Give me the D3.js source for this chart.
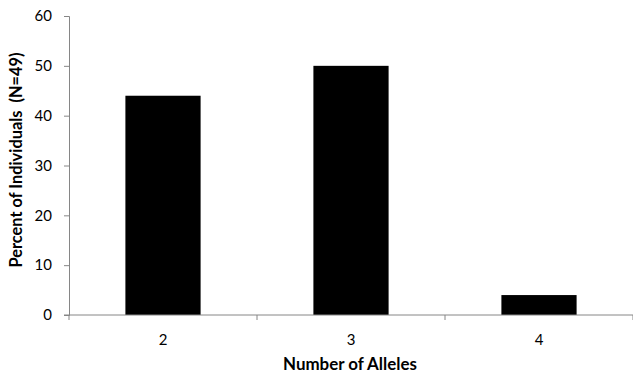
<!DOCTYPE html>
<html>
<head>
<meta charset="utf-8">
<script src="https://cdn.jsdelivr.net/npm/d3@7"></script>
<style>
  html, body { margin: 0; padding: 0; background: #fff; }
  svg { display: block; }
  text { font-family: Lato, "Open Sans", sans-serif; fill: #000; }
</style>
</head>
<body>
<svg id="chart" width="633" height="376"></svg>
<script>
const categories = ["2", "3", "4"];
const values = [44, 50, 4];
const yTicks = [0, 10, 20, 30, 40, 50, 60];
const xTitle = "Number of Alleles";
const yTitle = "Percent of Individuals  (N=49)";

const W = 633, H = 376;
const m = { left: 69, right: 0, top: 16, bottom: 61 };
const svg = d3.select("#chart");

const x = d3.scaleBand().domain(categories).range([m.left, W - m.right]).paddingInner(0.6).paddingOuter(0.3);
const xOuter = d3.scaleBand().domain(categories).range([m.left, W - m.right]);
const y = d3.scaleLinear().domain([0, 60]).range([H - m.bottom, m.top]);

// bars
svg.append("g").selectAll("rect").data(values).join("rect")
  .attr("x", (d, i) => x(categories[i]))
  .attr("width", x.bandwidth())
  .attr("y", d => y(d))
  .attr("height", d => y(0) - y(d))
  .attr("fill", "#000");

const axisColor = "#868686";

// y axis
const yAxis = svg.append("g").attr("transform", `translate(${m.left},0)`)
  .call(d3.axisLeft(y).tickValues(yTicks).tickSize(5).tickPadding(12));
yAxis.select(".domain").attr("stroke", axisColor);
yAxis.selectAll(".tick line").attr("stroke", axisColor);
yAxis.selectAll(".tick text").attr("font-size", 15).attr("font-family", "Lato, sans-serif").attr("fill", "#000");

// x axis
const xAxisG = svg.append("g").attr("transform", `translate(0,${y(0)})`);
xAxisG.append("line").attr("x1", m.left - 5).attr("x2", W - m.right).attr("y1", 0).attr("y2", 0).attr("stroke", axisColor);
const tickPos = categories.map(c => xOuter(c)).concat([W - m.right]);
xAxisG.selectAll(".xt").data(tickPos).join("line")
  .attr("x1", d => d).attr("x2", d => d).attr("y1", 0).attr("y2", 5).attr("stroke", axisColor);
xAxisG.selectAll(".xl").data(categories).join("text")
  .attr("x", d => xOuter(d) + xOuter.bandwidth() / 2)
  .attr("y", 30)
  .attr("text-anchor", "middle")
  .attr("font-size", 15)
  .text(d => d);

// fit a label's font size to a target width
function fit(sel, target) {
  const w = sel.node().getComputedTextLength();
  const fs = parseFloat(sel.attr("font-size"));
  sel.attr("font-size", (fs * target / w).toFixed(2));
}

// titles
const xt = svg.append("text").attr("x", 350).attr("y", 370).attr("text-anchor", "middle")
  .attr("font-size", 13).attr("font-weight", "bold").text(xTitle);
fit(xt, 134);
const yt = svg.append("text").attr("transform", "translate(22,160) rotate(-90)").attr("text-anchor", "middle")
  .style("white-space", "pre")
  .attr("font-size", 13).attr("font-weight", "bold").text(yTitle);
fit(yt, 215);
</script>
</body>
</html>
